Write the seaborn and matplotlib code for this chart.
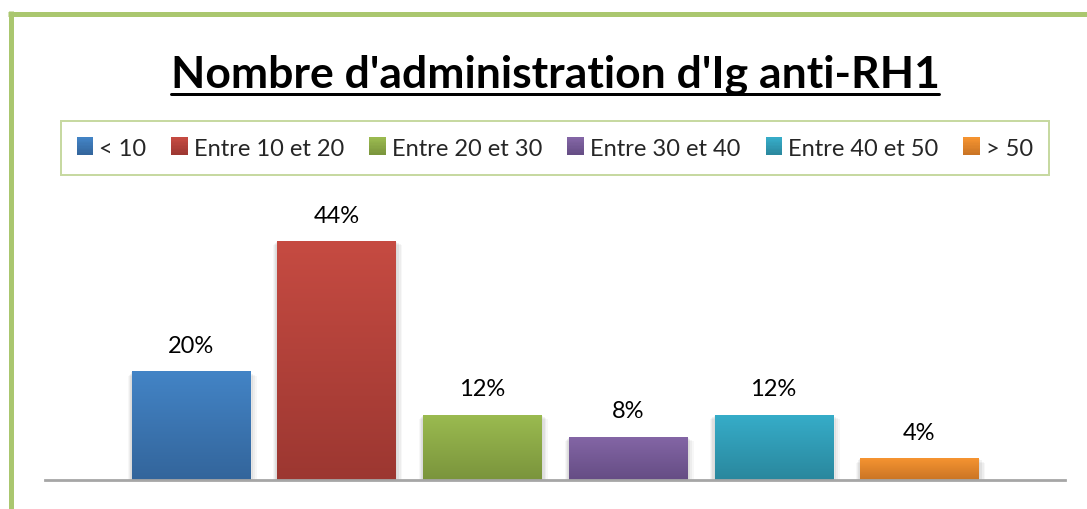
import numpy as np
import pandas as pd
import seaborn as sns
import matplotlib
matplotlib.use("Agg")
import matplotlib.pyplot as plt
from matplotlib.patches import Rectangle, Patch
from matplotlib.lines import Line2D
from matplotlib.colors import to_rgb
from matplotlib.legend_handler import HandlerBase

# --- data -----------------------------------------------------------------
categories = ["< 10", "Entre 10 et 20", "Entre 20 et 30",
              "Entre 30 et 40", "Entre 40 et 50", "> 50"]
values = [20, 44, 12, 8, 12, 4]
value_labels = ["20%", "44%", "12%", "8%", "12%", "4%"]
title = "Nombre d'administration d'Ig anti-RH1"

# top / bottom colours of each bar's vertical gradient
top_colors = ["#4384c6", "#c64b42", "#9bbb50", "#8466a6", "#36adc9", "#f69431"]
bottom_colors = ["#33659b", "#9c3731", "#7a943c", "#654d84", "#2a879d", "#c97424"]

FONT = "Lato"
W, H, DPI = 1087, 510, 100

sns.set_theme(style="white")
plt.rcParams["font.family"] = [FONT, "DejaVu Sans"]

fig = plt.figure(figsize=(W / DPI, H / DPI), dpi=DPI)
fig.patch.set_facecolor("white")


def fx(px):
    return px / W


def fy(py):
    return 1 - py / H


def blend(c_top, c_bot, t):
    a, b = np.array(to_rgb(c_top)), np.array(to_rgb(c_bot))
    return tuple(b * (1 - t) + a * t)


# plot area: baseline at y=481, spanning x=45..1065
ax = fig.add_axes([fx(45), fy(481), fx(1065) - fx(45), fy(200) - fy(481)])
df = pd.DataFrame({"cat": categories, "val": values})
sns.barplot(data=df, x="cat", y="val", hue="cat", palette=top_colors,
            order=categories, hue_order=categories, legend=False,
            width=0.81, ax=ax, saturation=1)

for s in ["top", "right", "left"]:
    ax.spines[s].set_visible(False)
ax.spines["bottom"].set_color("#a6a6a6")
ax.spines["bottom"].set_linewidth(2)
ax.set_xticks([])
ax.set_yticks([])
ax.set_xlabel("")
ax.set_ylabel("")
ax.patch.set_alpha(0)

# gradient fill + soft shadow for each bar
grad = np.linspace(0, 1, 256).reshape(-1, 1)
for patch, c_top, c_bot, lab in zip(ax.patches, top_colors, bottom_colors, value_labels):
    x0, y0 = patch.get_x(), patch.get_y()
    w, h = patch.get_width(), patch.get_height()
    for k, a in enumerate([0.06, 0.05, 0.04, 0.03]):
        dx = 0.012 * (k + 1)
        sh = Rectangle((x0 - dx * 0.6, y0 - 0.25 * (k + 1)), w + dx * 1.6,
                       h + 0.05 * (k + 1), facecolor="black", alpha=a,
                       edgecolor="none", zorder=1.5)
        ax.add_patch(sh)
    patch.set_zorder(2)
    t = np.array(to_rgb(c_top))
    b = np.array(to_rgb(c_bot))
    img = (b[None, None, :] * (1 - grad[..., None]) + t[None, None, :] * grad[..., None])
    im = ax.imshow(img, extent=[x0, x0 + w, y0, y0 + h], origin="lower",
                   aspect="auto", zorder=2.1, interpolation="bilinear")
    im.set_clip_path(patch)
    ax.annotate(lab, (x0 + w / 2, h), xytext=(0, 26 * 72 / DPI),
                textcoords="offset points", ha="center", va="center",
                fontsize=17, color="#000000", family=[FONT, "DejaVu Sans"])

ax.set_xlim(-1, 6)
ax.set_ylim(0, 281 / 5.43)

# green outer frame (left and top edges visible)
GREEN = "#aac76f"
fig.add_artist(Line2D([fx(10.5), fx(10.5)], [0, fy(12)], transform=fig.transFigure,
                      color=GREEN, linewidth=5 * 72 / DPI, solid_capstyle="butt"))
fig.add_artist(Line2D([fx(8), 1], [fy(14.5), fy(14.5)], transform=fig.transFigure,
                      color=GREEN, linewidth=5 * 72 / DPI, solid_capstyle="butt"))

# title, underlined
ttl = fig.text(fx(555), fy(75), title, ha="center", va="center",
               fontsize=32, fontweight="bold", color="black",
               family=[FONT, "DejaVu Sans"])
fig.canvas.draw()
bb = ttl.get_window_extent(fig.canvas.get_renderer())
fig.add_artist(Line2D([bb.x0 / W, bb.x1 / W], [fy(95), fy(95)],
                      transform=fig.transFigure, color="black",
                      linewidth=3 * 72 / DPI))


class GradientSquare(HandlerBase):
    def __init__(self, c_top, c_bot):
        super().__init__()
        self.c_top, self.c_bot = c_top, c_bot

    def create_artists(self, legend, orig_handle, xdescent, ydescent,
                       width, height, fontsize, trans):
        n = 12
        arts = []
        side = min(width, height)
        x0 = -xdescent + (width - side) / 2
        y0 = -ydescent + (height - side) / 2
        for i in range(n):
            r = Rectangle((x0, y0 + side * i / n), side, side / n + 0.3,
                          facecolor=blend(self.c_top, self.c_bot, (i + 0.5) / n),
                          edgecolor="none", transform=trans)
            arts.append(r)
        return arts


# legend
handles = [Patch(facecolor=c, edgecolor="none", label=l)
           for c, l in zip(top_colors, categories)]
handler_map = {h: GradientSquare(ct, cb)
               for h, ct, cb in zip(handles, top_colors, bottom_colors)}
leg = fig.legend(handles=handles, loc="center", ncol=6,
                 bbox_to_anchor=(fx(555), fy(149)), fontsize=17,
                 frameon=True, fancybox=False, edgecolor="#b9d08a",
                 handlelength=0.72, handleheight=0.72, handletextpad=0.25,
                 columnspacing=1.05, borderpad=0.68, handler_map=handler_map)
leg.get_frame().set_linewidth(2 * 72 / DPI)

fig.savefig("out.png", dpi=DPI, facecolor="white")
